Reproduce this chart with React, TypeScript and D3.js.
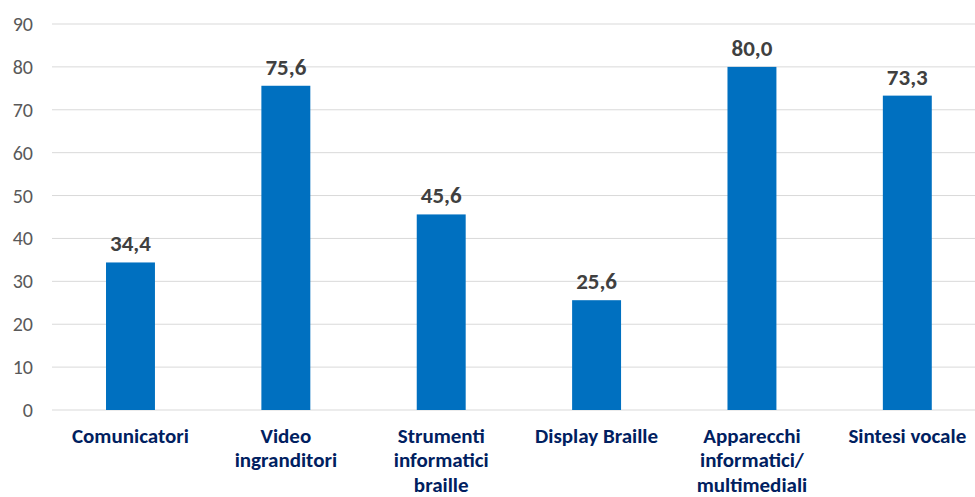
import React from "react";
import * as d3 from "d3";

const categories: string[][] = [
  ["Comunicatori"],
  ["Video", "ingranditori"],
  ["Strumenti", "informatici", "braille"],
  ["Display Braille"],
  ["Apparecchi", "informatici/", "multimediali"],
  ["Sintesi vocale"],
];
const values: number[] = [34.4, 75.6, 45.6, 25.6, 80.0, 73.3];
const yTicks: number[] = [0, 10, 20, 30, 40, 50, 60, 70, 80, 90];

const W = 975;
const H = 497;
const font = "Carlito, Lato, 'Liberation Sans', sans-serif";

export default function App() {
  const x = d3
    .scaleBand<number>()
    .domain(values.map((_, i) => i))
    .range([52.8, 985])
    .paddingInner(0.685)
    .paddingOuter(0.3425);
  const y = d3.scaleLinear().domain([0, 90]).range([410, 24]);
  const fmt = (v: number) => v.toFixed(1).replace(".", ",");

  return (
    <svg
      width={W}
      height={H}
      style={{ position: "absolute", left: 0, top: 0, background: "#fff" }}
    >
      {yTicks.map((t) => (
        <g key={t}>
          <line
            x1={52}
            x2={W}
            y1={y(t)}
            y2={y(t)}
            stroke="#d9d9d9"
            strokeWidth={1}
          />
          <text
            x={33}
            y={y(t)}
            dy="0.35em"
            textAnchor="end"
            fontFamily={font}
            fontSize={20}
            fill="#595959"
          >
            {t}
          </text>
        </g>
      ))}
      {values.map((v, i) => (
        <g key={i}>
          <rect
            x={x(i)}
            y={y(v)}
            width={x.bandwidth()}
            height={y(0) - y(v)}
            fill="#0070c0"
          />
          <text
            x={(x(i) as number) + x.bandwidth() / 2}
            y={y(v) - 11}
            textAnchor="middle"
            fontFamily={font}
            fontSize={23}
            fontWeight="bold"
            fill="#404040"
          >
            {fmt(v)}
          </text>
          {categories[i].map((line, j) => (
            <text
              key={j}
              x={(x(i) as number) + x.bandwidth() / 2}
              y={443 + j * 24.3}
              textAnchor="middle"
              fontFamily={font}
              fontSize={21}
              fontWeight="bold"
              fill="#002060"
            >
              {line}
            </text>
          ))}
        </g>
      ))}
    </svg>
  );
}
